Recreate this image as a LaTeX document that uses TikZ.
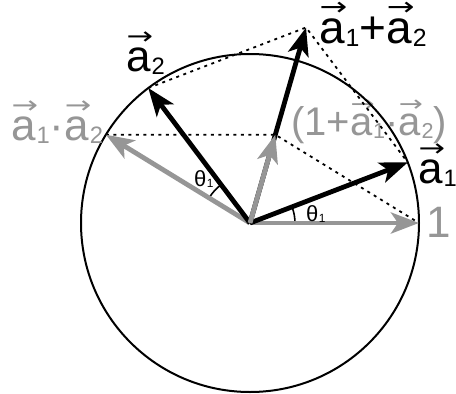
\documentclass[tikz,border=0pt]{standalone}
\usepackage{fontspec}
\setmainfont{Liberation Sans}
\newfontfamily\arrfont{DejaVu Sans}
\usepackage{graphicx}
\usetikzlibrary{arrows.meta,calc}
\definecolor{vgray}{RGB}{150,150,150}
\newcommand\va{\leavevmode\rlap{\kern0.01em\raisebox{0.6em}{\arrfont\scalebox{0.72}[0.55]{→}}}a}
\newcommand\sbs[1]{\kern0.02em\raisebox{-0.08em}{\scalebox{0.54}{#1}}}
\tikzset{
  vec/.style={line width=4.8pt, -{Stealth[length=28pt,width=21pt,inset=7pt]}},
  blk/.style={vec, draw=black, fill=black},
  gry/.style={vec, draw=vgray, fill=vgray},
  guide/.style={line width=1.8pt, dash pattern=on 3pt off 4.5pt},
  rim/.style={line width=2pt},
  arcl/.style={line width=1.6pt},
  lbl/.style={inner sep=0pt, anchor=base west, font=\fontsize{44}{46}\selectfont},
  biglbl/.style={lbl, font=\fontsize{46}{48}\selectfont},
  glbl/.style={lbl, text=vgray},
  ang/.style={inner sep=0pt, anchor=base west, font=\fontsize{22}{24}\selectfont},
}
\begin{document}
\begin{tikzpicture}[x=1pt,y=1pt]
\useasboundingbox (0,0) rectangle (456,-394);
\coordinate (O) at (250,-223);
\coordinate (A1) at ([shift={(21:169)}]O);
\coordinate (A2) at ([shift={(127:169)}]O);
\coordinate (P) at ([shift={(148.5:169)}]O);
\coordinate (U) at ([shift={(0:169)}]O);
\coordinate (S) at ($(A1)+(A2)-(O)$);
\coordinate (Pr) at ([xshift=250pt]P);
\coordinate (G) at (intersection of O--S and P--Pr);
% label behind the circle
\node[glbl, font=\fontsize{40}{42}\selectfont] (lone) at (291,-135) {(1+\va\sbs{1}·\va\sbs{2})};
% circle and guides
\draw[rim] (O) circle[radius=169];
\draw[guide] (A2) -- (S) -- (A1);
\draw[guide] (P) -- (G) -- (U);
% angle arcs
\draw[arcl] ([shift={(0:45)}]O) arc[start angle=0, end angle=21, radius=45];
\draw[arcl] ([shift={(127:48)}]O) arc[start angle=127, end angle=148.5, radius=48];
% vectors
\draw[gry] (O) -- (U);
\draw[gry] (O) -- (P);
\draw[blk] (O) -- (A1);
\draw[blk] (O) -- (A2);
\draw[blk] (O) -- (S);
\draw[gry] (O) -- (G);
% labels
\node[lbl] (la2) at (126,-71) {\va\sbs{2}};
\node[glbl] (la12) at (11,-140) {\va\sbs{1}·\va\sbs{2}};
\node[biglbl] (lsum) at (319,-43) {\va\sbs{1}+\va\sbs{2}};
\node[lbl] (la1) at (418,-183) {\va\sbs{1}};
\node[glbl] (lunit) at (426,-237) {1};
\node[ang] (lt1) at (306,-221) {θ\sbs{1}};
\node[ang] (lt2) at (194,-186) {θ\sbs{1}};
\end{tikzpicture}
\end{document}
